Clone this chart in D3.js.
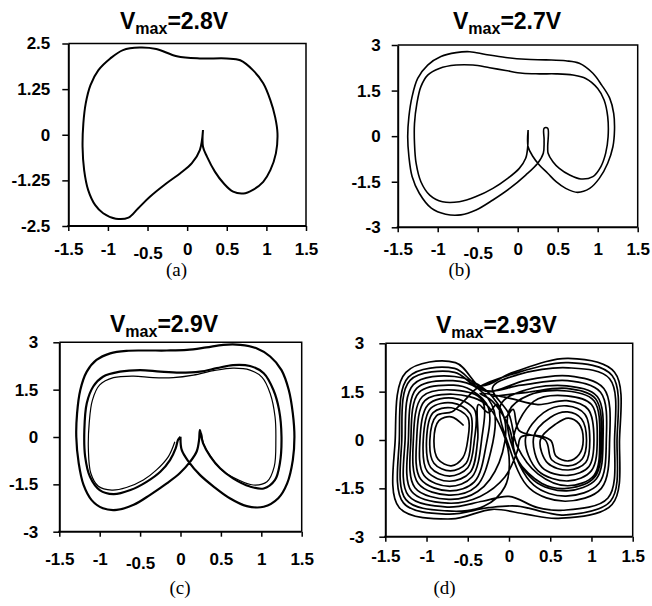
<!DOCTYPE html>
<html>
<head>
<meta charset="utf-8">
<script src="https://cdn.jsdelivr.net/npm/d3@7"></script>
<style>
  body { margin: 0; background: #fff; }
  svg { display: block; }
</style>
</head>
<body>
<div id="chart"></div>
<script>
// Axis ticks
var xTicks = [-1.5, -1, -0.5, 0, 0.5, 1, 1.5];
var yTicksA = [2.5, 1.25, 0, -1.25, -2.5];
var yTicks3 = [3, 1.5, 0, -1.5, -3];
var vmaxLabels = ["2.8V", "2.7V", "2.9V", "2.93V"];
var captions = ["(a)", "(b)", "(c)", "(d)"];

// (a) Vmax = 2.8V, period-1 orbit
var orbitA = [
  [0.20, 0.13], [0.16, -0.42], [0.06, -0.78], [-0.09, -1.06], [-0.26, -1.33], [-0.47, -1.70],
  [-0.62, -2.02], [-0.74, -2.27], [-0.90, -2.30], [-1.06, -2.15], [-1.16, -1.93], [-1.25, -1.51],
  [-1.30, -0.97], [-1.32, -0.33], [-1.31, 0.31], [-1.28, 0.86], [-1.22, 1.36], [-1.12, 1.77],
  [-0.97, 2.09], [-0.81, 2.32], [-0.60, 2.39], [-0.39, 2.35], [-0.13, 2.15], [0.16, 2.09],
  [0.50, 2.09], [0.67, 2.04], [0.83, 1.77], [0.96, 1.41], [1.05, 0.95], [1.11, 0.49],
  [1.14, 0.04], [1.12, -0.51], [1.05, -0.97], [0.96, -1.29], [0.83, -1.51], [0.71, -1.61],
  [0.58, -1.56], [0.46, -1.33], [0.35, -1.01], [0.25, -0.60], [0.20, -0.33], [0.20, 0.13]
];

// (b) Vmax = 2.7V, period-2 orbit
var orbitB = [
  [0.13, 0.20], [0.13, -0.35], [0.19, -0.67], [0.27, -0.95], [0.375, -1.22], [0.48, -1.50],
  [0.60, -1.72], [0.75, -1.85], [0.90, -1.72], [1.02, -1.39], [1.125, -0.89], [1.19, -0.35],
  [1.21, 0.20], [1.20, 0.75], [1.15, 1.25], [1.05, 1.68], [0.94, 2.07], [0.77, 2.40],
  [0.60, 2.48], [0.35, 2.51], [0.10, 2.53], [-0.15, 2.59], [-0.40, 2.69], [-0.60, 2.78],
  [-0.77, 2.75], [-0.96, 2.62], [-1.125, 2.34], [-1.25, 1.90], [-1.32, 1.30], [-1.36, 0.64],
  [-1.375, -0.02], [-1.36, -0.67], [-1.32, -1.33], [-1.23, -1.88], [-1.08, -2.37], [-0.90, -2.57],
  [-0.71, -2.59], [-0.52, -2.43], [-0.31, -2.10], [-0.10, -1.72], [0.10, -1.28], [0.25, -0.89],
  [0.32, -0.56], [0.33, -0.13], [0.33, 0.26], [0.375, 0.26], [0.375, -0.35], [0.38, -0.56],
  [0.44, -0.84], [0.52, -1.06], [0.65, -1.28], [0.79, -1.41], [0.94, -1.33], [1.04, -1.00],
  [1.10, -0.56], [1.13, -0.02], [1.125, 0.64], [1.08, 1.19], [1.00, 1.57], [0.85, 1.90],
  [0.69, 2.01], [0.48, 2.05], [0.27, 2.05], [0.06, 2.07], [-0.15, 2.16], [-0.35, 2.25],
  [-0.56, 2.34], [-0.77, 2.34], [-0.98, 2.23], [-1.125, 2.01], [-1.21, 1.63], [-1.26, 1.08],
  [-1.29, 0.42], [-1.29, -0.24], [-1.27, -0.89], [-1.21, -1.50], [-1.10, -1.94], [-0.94, -2.16],
  [-0.73, -2.16], [-0.52, -1.99], [-0.31, -1.72], [-0.125, -1.39], [0.02, -1.06], [0.10, -0.73],
  [0.125, -0.35], [0.13, 0.20]
];

// (c) Vmax = 2.9V, outer + inner band
var orbitC = [
  [0.00, 0.01], [0.015, -0.41], [0.10, -0.78], [0.24, -1.20], [0.41, -1.57], [0.61, -1.94],
  [0.82, -2.19], [1.03, -2.21], [1.21, -1.94], [1.32, -1.47], [1.39, -0.73], [1.41, 0.01],
  [1.39, 0.75], [1.34, 1.49], [1.25, 2.12], [1.11, 2.55], [0.94, 2.81], [0.74, 2.92],
  [0.53, 2.92], [0.32, 2.84], [0.08, 2.76], [-0.17, 2.74], [-0.42, 2.74], [-0.67, 2.73],
  [-0.87, 2.65], [-1.04, 2.44], [-1.16, 2.07], [-1.24, 1.49], [-1.28, 0.75], [-1.29, 0.01],
  [-1.26, -0.83], [-1.20, -1.52], [-1.10, -2.00], [-0.96, -2.26], [-0.79, -2.31], [-0.58, -2.15],
  [-0.38, -1.84], [-0.17, -1.47], [-0.01, -1.15], [0.12, -0.78], [0.20, -0.46], [0.23, -0.09],
  [0.24, 0.22], [0.28, -0.20], [0.37, -0.62], [0.49, -0.99], [0.65, -1.31], [0.86, -1.57],
  [1.03, -1.63], [1.17, -1.36], [1.23, -0.83], [1.25, 0.01], [1.22, 0.86], [1.15, 1.49],
  [1.03, 2.02], [0.86, 2.25], [0.65, 2.28], [0.45, 2.18], [0.24, 2.07], [-0.01, 2.04],
  [-0.25, 2.07], [-0.50, 2.12], [-0.75, 2.07], [-0.96, 1.91], [-1.08, 1.60], [-1.16, 1.07],
  [-1.19, 0.22], [-1.18, -0.62], [-1.12, -1.26], [-1.00, -1.68], [-0.83, -1.81], [-0.62, -1.68],
  [-0.42, -1.42], [-0.25, -1.10], [-0.13, -0.73], [-0.06, -0.36], [-0.03, -0.09], [0.00, 0.01]
];
var orbitC2 = [
  [-0.07, -0.15], [-0.15, -0.62], [-0.30, -1.05], [-0.46, -1.36], [-0.67, -1.60], [-0.85, -1.68],
  [-1.02, -1.55], [-1.11, -1.15], [-1.14, -0.40], [-1.13, 0.44], [-1.09, 1.17], [-1.00, 1.65],
  [-0.83, 1.88], [-0.58, 1.93], [-0.34, 1.88], [-0.09, 1.88], [0.16, 1.96], [0.41, 2.10],
  [0.65, 2.18], [0.86, 2.12], [1.01, 1.89], [1.11, 1.38], [1.17, 0.64], [1.18, -0.10],
  [1.16, -0.94], [1.07, -1.42], [0.90, -1.52], [0.70, -1.34], [0.51, -1.05], [0.39, -0.68],
  [0.29, -0.25], [0.26, 0.12]
];

// (d) Vmax = 2.93V, double-scroll
var orbitD = [
  [-0.55, 0.45], [-0.70, 0.72], [-0.85, 0.60], [-0.91, 0.00], [-0.86, -0.60], [-0.70, -0.80], [-0.56, -0.55], [-0.50, 0.00],
  [-0.50, 0.70], [-0.70, 1.00], [-0.92, 0.85], [-1.00, 0.00], [-0.95, -0.85], [-0.72, -1.12], [-0.50, -0.86], [-0.42, 0.00],
  [-0.42, 0.95], [-0.68, 1.30], [-0.98, 1.10], [-1.08, 0.00], [-1.03, -1.10], [-0.72, -1.44], [-0.45, -1.15], [-0.33, 0.05],
  [-0.33, 1.25], [-0.66, 1.55], [-1.05, 1.35], [-1.16, 0.00], [-1.10, -1.35], [-0.73, -1.71], [-0.40, -1.45], [-0.22, -0.35],
  [-0.18, 0.90], [-0.38, 1.60], [-0.68, 1.84], [-1.12, 1.60], [-1.22, 0.00], [-1.18, -1.60], [-0.74, -1.96], [-0.35, -1.75],
  [-0.05, -1.15], [0.10, -0.35], [0.15, 0.10],
  [0.50, 0.00], [0.57, -0.50], [0.72, -0.65], [0.85, -0.45], [0.90, 0.00], [0.85, 0.50], [0.72, 0.68], [0.57, 0.50],
  [0.38, 0.00], [0.47, -0.72], [0.72, -0.93], [0.93, -0.70], [0.98, 0.00], [0.92, 0.80], [0.70, 1.06], [0.42, 0.85],
  [0.20, 0.05], [0.35, -0.95], [0.72, -1.27], [1.00, -0.95], [1.07, 0.00], [1.00, 1.10], [0.70, 1.37], [0.30, 1.20],
  [0.05, -0.10], [0.30, -1.25], [0.70, -1.58], [1.06, -1.20], [1.14, 0.00], [1.07, 1.35], [0.70, 1.68], [0.20, 1.55], [-0.10, 1.10],
  [0.00, -0.20], [0.25, -1.50], [0.68, -1.90], [1.12, -1.50], [1.22, 0.00], [1.15, 1.60], [0.72, 1.99], [0.20, 1.85], [-0.25, 1.50],
  [-0.45, 1.75], [-0.66, 2.10], [-1.20, 1.85], [-1.30, 0.00], [-1.25, -1.85], [-0.75, -2.20], [-0.30, -2.05],
  [-0.05, -1.45], [0.00, -0.50], [-0.12, 0.50], [-0.30, 1.15],
  [-0.68, 1.42], [-1.02, 1.22], [-1.12, 0.00], [-1.07, -1.22], [-0.72, -1.58], [-0.42, -1.30], [-0.28, -0.20], [-0.25, 1.00],
  [-0.46, 1.55], [-0.67, 1.70], [-1.09, 1.48], [-1.19, 0.00], [-1.14, -1.48], [-0.73, -1.84], [-0.38, -1.60], [-0.12, -0.70],
  [-0.05, 0.60], [-0.28, 1.55], [-0.66, 1.97], [-1.16, 1.72], [-1.26, 0.00], [-1.22, -1.72], [-0.75, -2.08], [-0.32, -1.90],
  [0.00, -1.75], [0.35, -2.10], [0.65, -2.18], [1.20, -1.80], [1.28, 0.00], [1.22, 1.90], [0.72, 2.24], [0.10, 2.02], [-0.20, 1.62],
  [0.00, 0.80], [0.10, -0.20], [0.35, -1.05], [0.71, -1.42], [1.03, -1.10], [1.10, 0.00], [1.03, 1.22], [0.70, 1.52], [0.25, 1.40], [0.00, 0.90],
  [0.02, -0.05], [0.30, -1.40], [0.69, -1.74], [1.09, -1.35], [1.18, 0.00], [1.11, 1.48], [0.71, 1.84], [0.15, 1.70], [-0.30, 1.55],
  [-0.65, 2.40], [-1.25, 2.10], [-1.38, 0.00], [-1.33, -2.10], [-0.70, -2.45], [-0.20, -2.15], [0.20, -2.30], [0.60, -2.43],
  [1.25, -2.00], [1.34, 0.00], [1.28, 2.10], [0.72, 2.53], [0.05, 2.10], [-0.35, 1.68],
  [-0.66, 2.22], [-1.22, 1.95], [-1.33, 0.00], [-1.28, -1.95], [-0.74, -2.30], [-0.25, -2.10],
  [0.10, -2.05], [0.45, -2.25], [0.66, -2.33], [1.23, -1.90], [1.31, 0.00], [1.25, 2.00], [0.72, 2.40], [0.05, 2.05], [-0.38, 1.62],
  [-0.55, 1.20], [-0.69, 0.88], [-0.88, 0.75], [-0.96, 0.00], [-0.91, -0.72], [-0.71, -0.96], [-0.52, -0.72], [-0.46, 0.00], [-0.47, 0.82],
  [-0.69, 1.15], [-0.95, 0.98], [-1.04, 0.00], [-0.99, -0.98], [-0.72, -1.28], [-0.47, -1.00], [-0.38, 0.00], [-0.37, 1.10],
  [-0.25, 0.85], [-0.15, 1.10], [-0.05, 0.70], [0.05, 0.95], [0.12, 0.30],
  [0.44, 0.00], [0.52, -0.62], [0.72, -0.80], [0.89, -0.58], [0.94, 0.00], [0.88, 0.65], [0.71, 0.87], [0.50, 0.70],
  [0.30, 0.10], [0.40, -0.85], [0.72, -1.10], [0.97, -0.82], [1.03, 0.00], [0.96, 0.95], [0.70, 1.22], [0.35, 1.10], [0.00, 1.30], [-0.35, 1.45],
  [-0.20, 1.20], [0.00, 0.40], [0.10, -0.60], [0.40, -1.35], [0.70, -1.50], [1.04, -1.15], [1.12, 0.00], [1.05, 1.28], [0.70, 1.60], [0.22, 1.48], [-0.20, 1.35]
];

var svg = d3.select('#chart')
  .append('svg')
  .attr('width', 652)
  .attr('height', 606);

var tickFont = 'Liberation Sans, Arial, sans-serif';

function styleAxis(g) {
  g.attr('font-family', tickFont)
    .attr('font-size', 17)
    .attr('font-weight', 'bold');
  g.selectAll('.tick text')
    .attr('fill', '#000')
    .attr('font-family', tickFont)
    .attr('font-size', 17)
    .attr('font-weight', 'bold');
  g.selectAll('.tick line').attr('stroke-width', 1.5);
  g.select('.domain').attr('stroke-width', 2);
}

function drawPanel(p) {
  var x = d3.scaleLinear().domain([-1.5, 1.5]).range([p.left, p.right]);
  var y = d3.scaleLinear()
    .domain([p.yTicks[p.yTicks.length - 1], p.yTicks[0]])
    .range([p.bottom, p.top]);

  var line = d3.line()
    .x(function (d) { return x(d[0]); })
    .y(function (d) { return y(d[1]); })
    .curve(d3.curveCatmullRom.alpha(0.5));

  p.series.forEach(function (s, i) {
    svg.append('path')
      .datum(s)
      .attr('d', line)
      .attr('fill', 'none')
      .attr('stroke', '#000')
      .attr('stroke-width', p.widths[i])
      .attr('stroke-linejoin', 'round');
  });

  // frame top and right
  svg.append('path')
    .attr('d', 'M' + p.left + ',' + p.top + 'H' + p.right + 'V' + p.bottom)
    .attr('fill', 'none')
    .attr('stroke', '#000')
    .attr('stroke-width', 1.5);

  // Y-Axis
  var yAxis = d3.axisLeft(y)
    .tickValues(p.yTicks)
    .tickSize(6)
    .tickSizeOuter(0)
    .tickPadding(p.yPad)
    .tickFormat(function (d) { return String(d); });
  var gy = svg.append('g')
    .attr('transform', 'translate(' + p.left + ',0)')
    .call(yAxis);
  styleAxis(gy);

  // X-Axis
  var xAxis = d3.axisBottom(x)
    .tickValues(xTicks)
    .tickSize(5)
    .tickSizeOuter(0)
    .tickPadding(p.xPad)
    .tickFormat(function (d) { return String(d); });
  var gx = svg.append('g')
    .attr('transform', 'translate(0,' + p.bottom + ')')
    .call(xAxis);
  styleAxis(gx);
  gx.selectAll('.tick text')
    .filter(function (d) { return d === -0.5; })
    .attr('y', 5 + p.xPad + 4);
  gx.select('.domain').attr('d', 'M' + (p.left - 1) + ',0H' + p.right);

  // Title
  var title = svg.append('text')
    .attr('x', p.titleX)
    .attr('y', p.titleY)
    .attr('font-family', tickFont)
    .attr('font-weight', 'bold')
    .attr('font-size', 23);
  title.append('tspan').text('V');
  title.append('tspan').attr('dy', 5).attr('font-size', 16).text('max');
  title.append('tspan').attr('dy', -5).text('=' + p.vmax);

  // Caption
  svg.append('text')
    .attr('x', p.capX)
    .attr('y', p.capY)
    .attr('text-anchor', 'middle')
    .attr('font-family', 'Liberation Serif, Times New Roman, serif')
    .attr('font-size', 19)
    .text(p.caption);
}

drawPanel({ left: 68.3, right: 306, top: 43.5, bottom: 226, yTicks: yTicksA,
  series: [orbitA], widths: [2], yPad: 12, xPad: 12,
  titleX: 120, titleY: 28.5, vmax: vmaxLabels[0], capX: 176.5, capY: 276, caption: captions[0] });

drawPanel({ left: 397.7, right: 637.7, top: 45, bottom: 227.3, yTicks: yTicks3,
  series: [orbitB], widths: [1.6], yPad: 11, xPad: 11,
  titleX: 453, titleY: 29, vmax: vmaxLabels[1], capX: 459.5, capY: 276, caption: captions[1] });

drawPanel({ left: 59.3, right: 301.7, top: 342.3, bottom: 531.7, yTicks: yTicks3,
  series: [orbitC, orbitC2], widths: [2.2, 1.2], yPad: 15, xPad: 16,
  titleX: 110, titleY: 331.5, vmax: vmaxLabels[2], capX: 180, capY: 594, caption: captions[2] });

drawPanel({ left: 385.3, right: 632.7, top: 343.3, bottom: 536.7, yTicks: yTicks3,
  series: [orbitD], widths: [1.7], yPad: 15, xPad: 8,
  titleX: 436, titleY: 333, vmax: vmaxLabels[3], capX: 444.5, capY: 594, caption: captions[3] });
</script>
</body>
</html>
